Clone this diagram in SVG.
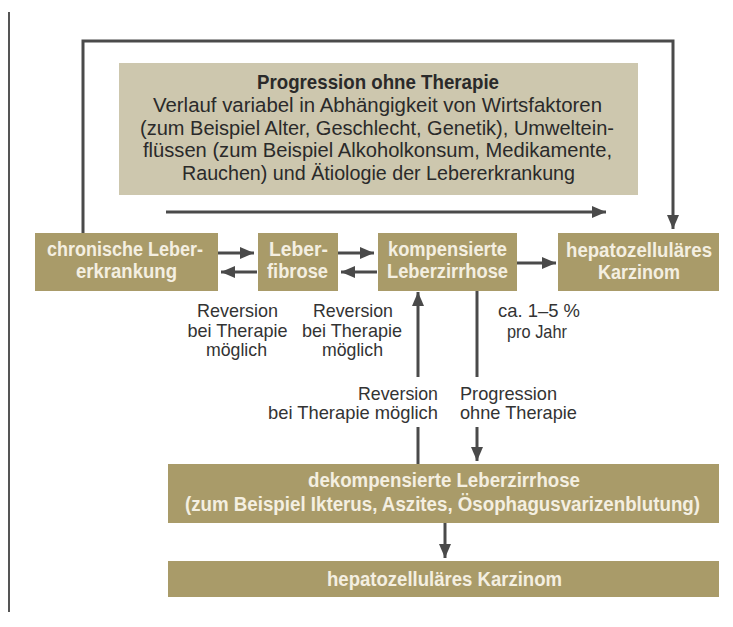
<svg xmlns="http://www.w3.org/2000/svg" width="733" height="627" viewBox="0 0 733 627">
<style>
.box{fill:#a99b69}
.note{fill:#cdc7ae}
.nt{font-family:"Liberation Sans",Arial,sans-serif;font-weight:bold;font-size:19.5px;fill:#f4efe1;text-anchor:middle}
.bt{font-family:"Liberation Sans",Arial,sans-serif;font-size:20.5px;fill:#2a2a2a;text-anchor:middle}
.lb{font-family:"Liberation Sans",Arial,sans-serif;font-size:19px;fill:#333;text-anchor:middle}
.ln{stroke:#4a4a4a;stroke-width:3;fill:none}
.ar{stroke:#4a4a4a;stroke-width:3;fill:none;marker-end:url(#ah)}
</style>
<defs>
<marker id="ah" markerUnits="userSpaceOnUse" markerWidth="14" markerHeight="14" viewBox="0 0 14 14" refX="14" refY="7" orient="auto">
<path d="M0,1 L14,7 L0,13 Z" fill="#4a4a4a"/>
</marker>
</defs>
<rect width="733" height="627" fill="#ffffff"/>
<line x1="9" y1="12" x2="9" y2="612" stroke="#555" stroke-width="2"/>

<g id="note">
<rect class="note" x="119" y="63" width="519" height="132"/>
<text class="bt" x="378" y="89" font-weight="bold" font-size="17.5" textLength="242" lengthAdjust="spacingAndGlyphs">Progression ohne Therapie</text>
<text class="bt" x="377.5" y="112" textLength="449" lengthAdjust="spacingAndGlyphs">Verlauf variabel in Abhängigkeit von Wirtsfaktoren</text>
<text class="bt" x="377" y="135" textLength="474" lengthAdjust="spacingAndGlyphs">(zum Beispiel Alter, Geschlecht, Genetik), Umweltein-</text>
<text class="bt" x="377.5" y="157" textLength="469" lengthAdjust="spacingAndGlyphs">flüssen (zum Beispiel Alkoholkonsum, Medikamente,</text>
<text class="bt" x="378.5" y="180" textLength="393" lengthAdjust="spacingAndGlyphs">Rauchen) und Ätiologie der Lebererkrankung</text>
</g>

<g id="chronisch">
<rect class="box" x="35" y="233" width="183" height="58"/>
<text class="nt" x="125" y="256" textLength="156" lengthAdjust="spacingAndGlyphs">chronische Leber-</text>
<text class="nt" x="126.5" y="278" textLength="101" lengthAdjust="spacingAndGlyphs">erkrankung</text>
</g>
<g id="fibrose">
<rect class="box" x="258" y="233" width="80" height="58"/>
<text class="nt" x="298.5" y="256" textLength="59" lengthAdjust="spacingAndGlyphs">Leber-</text>
<text class="nt" x="297.5" y="278" textLength="61" lengthAdjust="spacingAndGlyphs">fibrose</text>
</g>
<g id="kompensiert">
<rect class="box" x="378" y="233" width="139" height="58"/>
<text class="nt" x="447.5" y="256" textLength="119" lengthAdjust="spacingAndGlyphs">kompensierte</text>
<text class="nt" x="447.5" y="278" textLength="121" lengthAdjust="spacingAndGlyphs">Leberzirrhose</text>
</g>
<g id="hcc1">
<rect class="box" x="558" y="233" width="161" height="58"/>
<text class="nt" x="639" y="257" textLength="146" lengthAdjust="spacingAndGlyphs">hepatozelluläres</text>
<text class="nt" x="639" y="279" textLength="82" lengthAdjust="spacingAndGlyphs">Karzinom</text>
</g>
<g id="dekompensiert">
<rect class="box" x="168" y="464" width="551" height="59"/>
<text class="nt" x="444" y="487" font-size="20" textLength="272" lengthAdjust="spacingAndGlyphs">dekompensierte Leberzirrhose</text>
<text class="nt" x="442.5" y="511" font-size="20" textLength="515" lengthAdjust="spacingAndGlyphs">(zum Beispiel Ikterus, Aszites, Ösophagusvarizenblutung)</text>
</g>
<g id="hcc2">
<rect class="box" x="168" y="561" width="551" height="36"/>
<text class="nt" x="444.5" y="586" font-size="20" textLength="235" lengthAdjust="spacingAndGlyphs">hepatozelluläres Karzinom</text>
</g>

<g id="connectors">
<polyline class="ar" points="83,233 83,41 673,41 673,229"/>
<line class="ar" x1="166" y1="212" x2="606" y2="212"/>
<line class="ar" x1="218" y1="253" x2="254" y2="253"/>
<line class="ar" x1="257" y1="272" x2="221" y2="272"/>
<line class="ar" x1="338" y1="253" x2="374" y2="253"/>
<line class="ar" x1="377" y1="272" x2="341" y2="272"/>
<line class="ar" x1="517" y1="263" x2="556" y2="263"/>
<line class="ar" x1="418" y1="377" x2="418" y2="292"/>
<line class="ln" x1="418" y1="427" x2="418" y2="464"/>
<line class="ln" x1="477" y1="291" x2="477" y2="377"/>
<line class="ar" x1="477" y1="427" x2="477" y2="461"/>
<line class="ar" x1="445" y1="523" x2="445" y2="558"/>
</g>

<g id="labels">
<text class="lb" x="237.5" y="317" textLength="81" lengthAdjust="spacingAndGlyphs">Reversion</text>
<text class="lb" x="237.5" y="337" textLength="100" lengthAdjust="spacingAndGlyphs">bei Therapie</text>
<text class="lb" x="236.5" y="356" textLength="61" lengthAdjust="spacingAndGlyphs">möglich</text>
<text class="lb" x="353" y="317" textLength="80" lengthAdjust="spacingAndGlyphs">Reversion</text>
<text class="lb" x="352" y="337" textLength="100" lengthAdjust="spacingAndGlyphs">bei Therapie</text>
<text class="lb" x="352.5" y="356" textLength="61" lengthAdjust="spacingAndGlyphs">möglich</text>
<text class="lb" x="539" y="317" textLength="82" lengthAdjust="spacingAndGlyphs">ca. 1–5 %</text>
<text class="lb" x="537" y="338" textLength="60" lengthAdjust="spacingAndGlyphs">pro Jahr</text>
<text class="lb" x="438" y="400" style="text-anchor:end" textLength="80" lengthAdjust="spacingAndGlyphs">Reversion</text>
<text class="lb" x="438" y="419" style="text-anchor:end" textLength="170" lengthAdjust="spacingAndGlyphs">bei Therapie möglich</text>
<text class="lb" x="460" y="400" style="text-anchor:start" textLength="97" lengthAdjust="spacingAndGlyphs">Progression</text>
<text class="lb" x="460" y="419" style="text-anchor:start" textLength="117" lengthAdjust="spacingAndGlyphs">ohne Therapie</text>
</g>
</svg>
